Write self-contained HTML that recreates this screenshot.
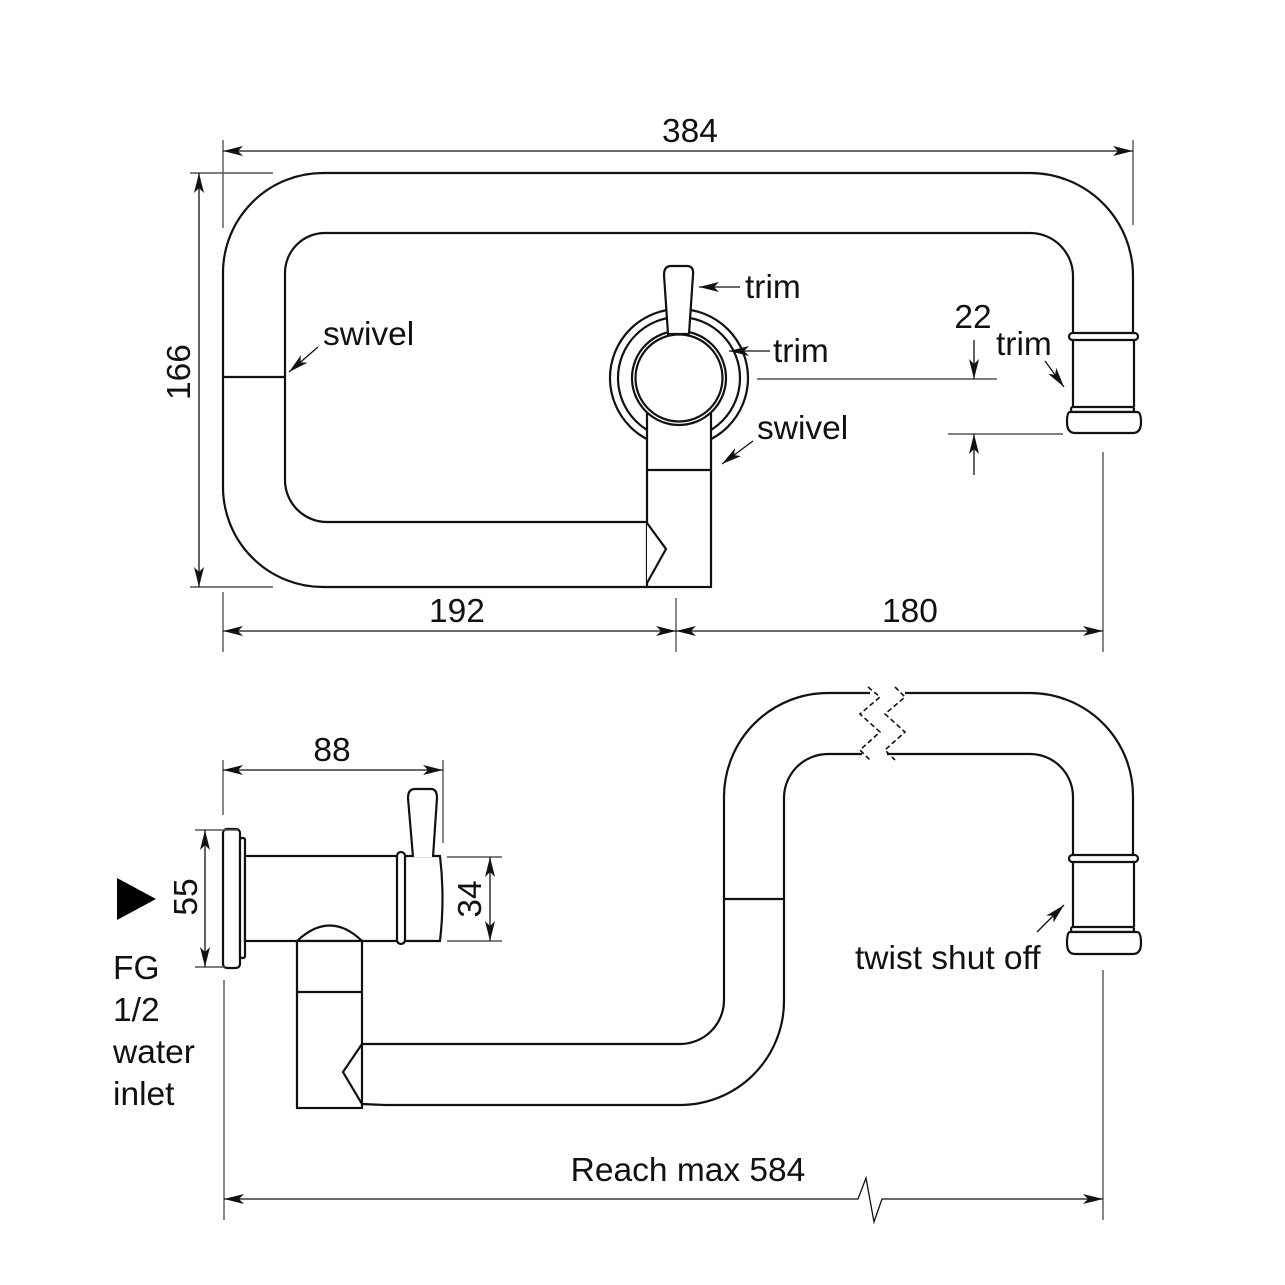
<!DOCTYPE html>
<html><head><meta charset="utf-8"><style>
html,body{margin:0;padding:0;background:#fff}
svg{display:block}
text{font-family:"Liberation Sans",sans-serif;font-size:33.5px;fill:#111}
</style></head><body>
<svg width="1285" height="1285" viewBox="0 0 1285 1285" xmlns="http://www.w3.org/2000/svg">
<defs>
<marker id="a" viewBox="0 0 20 10" refX="20" refY="5" markerWidth="20" markerHeight="10" markerUnits="userSpaceOnUse" orient="auto-start-reverse">
<path d="M0,0 L20,5 L0,10 L5,5 Z" fill="#111"/>
</marker>
</defs>
<rect width="1285" height="1285" fill="#fff"/>

<!-- ===== TOP VIEW ===== -->
<g fill="none" stroke="#111" stroke-width="2.2">
<path d="M647,587 L323,587 A100,100 0 0 1 223,487 L223,273 A100,100 0 0 1 323,173 L1030,173 A103,103 0 0 1 1133,276 L1133,334"/>
<path d="M647,522 L327,522 A42,42 0 0 1 285,480 L285,273 A40,40 0 0 1 325,233 L1030,233 A43,43 0 0 1 1073,276 L1073,334"/>
<line x1="223" y1="377" x2="285" y2="377"/>
<rect x="1069" y="333" width="69" height="7" rx="3.5" fill="#fff"/>
<line x1="1073" y1="340" x2="1073" y2="407"/>
<line x1="1134" y1="340" x2="1134" y2="407"/>
<rect x="1071" y="407" width="63" height="5" rx="2" fill="#fff"/>
<path d="M1070,412 L1137,412 Q1141,412 1141,422 Q1141,433 1133,433 L1075,433 Q1067,433 1067,422 Q1067,412 1070,412 Z" fill="#fff"/>
<circle cx="679" cy="378" r="69"/>
<circle cx="679" cy="378" r="61"/>
<rect x="647" y="410" width="64" height="177" fill="#fff"/>
<line x1="647" y1="470" x2="711" y2="470"/>
<path d="M647,523 L666,549 L647,583" fill="#fff"/>
<circle cx="679" cy="378" r="47" fill="#fff"/>
<circle cx="679" cy="378" r="43.5"/>
<path d="M668,334 L664,275 Q664,266 671,266 L687,266 Q694,266 693,275 L689,334 Z" fill="#fff"/>
</g>
<g stroke="#555" stroke-width="1.4" fill="none">
<line x1="223" y1="140" x2="223" y2="228"/>
<line x1="1133" y1="140" x2="1133" y2="225"/>
<line x1="190" y1="173" x2="273" y2="173"/>
<line x1="190" y1="587" x2="273" y2="587"/>
<line x1="223" y1="592" x2="223" y2="652"/>
<line x1="676" y1="598" x2="676" y2="652"/>
<line x1="1103" y1="452" x2="1103" y2="652"/>
<line x1="757" y1="379" x2="997" y2="379"/>
<line x1="948" y1="434" x2="1063" y2="434"/>
</g>
<g stroke="#111" stroke-width="1.3" fill="none">
<line x1="223" y1="151" x2="1133" y2="151" marker-start="url(#a)" marker-end="url(#a)"/>
<line x1="199" y1="173" x2="199" y2="587" marker-start="url(#a)" marker-end="url(#a)"/>
<line x1="223" y1="631" x2="676" y2="631" marker-start="url(#a)" marker-end="url(#a)"/>
<line x1="676" y1="631" x2="1103" y2="631" marker-start="url(#a)" marker-end="url(#a)"/>
<line x1="974" y1="340" x2="974" y2="379" marker-end="url(#a)"/>
<line x1="974" y1="475" x2="974" y2="434" marker-end="url(#a)"/>
<line x1="740" y1="287" x2="699" y2="287" marker-end="url(#a)"/>
<line x1="770" y1="351" x2="729" y2="351" marker-end="url(#a)"/>
<line x1="753" y1="441" x2="722" y2="464" marker-end="url(#a)"/>
<line x1="1045" y1="361" x2="1064" y2="387" marker-end="url(#a)"/>
<line x1="318" y1="347" x2="289" y2="372" marker-end="url(#a)"/>
</g>
<text x="690" y="142" text-anchor="middle">384</text>
<text transform="translate(190,372) rotate(-90)" text-anchor="middle">166</text>
<text x="457" y="622" text-anchor="middle">192</text>
<text x="910" y="622" text-anchor="middle">180</text>
<text x="973" y="328" text-anchor="middle">22</text>
<text x="745" y="298">trim</text>
<text x="773" y="362">trim</text>
<text x="757" y="439">swivel</text>
<text x="996" y="355">trim</text>
<text x="323" y="345">swivel</text>

<!-- ===== BOTTOM VIEW ===== -->
<g fill="none" stroke="#111" stroke-width="2.2">
<path d="M362,1044 L680,1044 A44,44 0 0 0 724,1000 L724,797 A104,104 0 0 1 828,693 L870,693"/>
<path d="M905,693 L1030,693 A103,103 0 0 1 1133,796 L1133,855"/>
<path d="M385,1105 L680,1105 A104,104 0 0 0 784,1001 L784,798 A44,44 0 0 1 828,754 L862,754"/>
<path d="M887,754 L1030,754 A43,43 0 0 1 1073,797 L1073,855"/>
<line x1="724" y1="899" x2="784" y2="899"/>
<rect x="1069" y="855" width="69" height="7" rx="3.5" fill="#fff"/>
<line x1="1073" y1="862" x2="1073" y2="927"/>
<line x1="1134" y1="862" x2="1134" y2="927"/>
<rect x="1071" y="927" width="63" height="5" rx="2" fill="#fff"/>
<path d="M1070,932 L1137,932 Q1141,932 1141,943 Q1141,954 1133,954 L1075,954 Q1067,954 1067,943 Q1067,932 1070,932 Z" fill="#fff"/>
<rect x="223" y="829" width="17" height="139" rx="4" fill="#fff"/>
<rect x="240" y="838" width="5" height="120" rx="2" fill="#fff"/>
<rect x="245" y="856" width="153" height="85" fill="#fff"/>
<path d="M404,856 L440,856 Q445,898 440,941 L404,941" fill="#fff"/>
<rect x="397" y="852" width="8" height="92" rx="4" fill="#fff"/>
<path d="M413,857 L408,798 Q408,789 415,789 L431,789 Q437,789 437,798 L433,857" fill="#fff"/>
<path d="M297,941 Q330,910 362,941 Z" fill="#fff"/>
<rect x="297" y="941" width="65" height="167" fill="#fff"/>
<line x1="297" y1="992" x2="362" y2="992"/>
<path d="M362,1044 L343,1072 L362,1104 L385,1105"/>
</g>
<g stroke="#111" stroke-width="1.6" fill="none" stroke-dasharray="5,3">
<polyline points="868,687 880,697 860,714 880,732 860,750 870,760"/>
<polyline points="895,687 905,697 885,714 905,732 885,750 895,760"/>
</g>
<g stroke="#555" stroke-width="1.4" fill="none">
<line x1="223" y1="760" x2="223" y2="815"/>
<line x1="443" y1="760" x2="443" y2="843"/>
<line x1="195" y1="830" x2="238" y2="830"/>
<line x1="195" y1="967" x2="225" y2="967"/>
<line x1="447" y1="857" x2="502" y2="857"/>
<line x1="447" y1="941" x2="502" y2="941"/>
<line x1="224" y1="980" x2="224" y2="1220"/>
<line x1="1103" y1="970" x2="1103" y2="1220"/>
</g>
<g stroke="#111" stroke-width="1.3" fill="none">
<line x1="223" y1="770" x2="443" y2="770" marker-start="url(#a)" marker-end="url(#a)"/>
<line x1="205" y1="830" x2="205" y2="967" marker-start="url(#a)" marker-end="url(#a)"/>
<line x1="490" y1="857" x2="490" y2="941" marker-start="url(#a)" marker-end="url(#a)"/>
<polyline points="224,1199 858,1199 866,1178 874,1222 882,1199 1103,1199"/>
<line x1="1037" y1="932" x2="1064" y2="905" marker-end="url(#a)"/>
</g>
<path d="M224,1199 L244,1194 L239,1199 L244,1204 Z" fill="#111"/>
<path d="M1103,1199 L1083,1194 L1088,1199 L1083,1204 Z" fill="#111"/>
<polygon points="117,878 117,920 156,899" fill="#000"/>
<text x="332" y="761" text-anchor="middle">88</text>
<text transform="translate(197,897) rotate(-90)" text-anchor="middle">55</text>
<text transform="translate(481,899) rotate(-90)" text-anchor="middle">34</text>
<text x="113" y="979">FG</text>
<text x="113" y="1021">1/2</text>
<text x="113" y="1063">water</text>
<text x="113" y="1105">inlet</text>
<text x="855" y="969">twist shut off</text>
<text x="688" y="1181" text-anchor="middle">Reach max 584</text>
</svg>
</body></html>
